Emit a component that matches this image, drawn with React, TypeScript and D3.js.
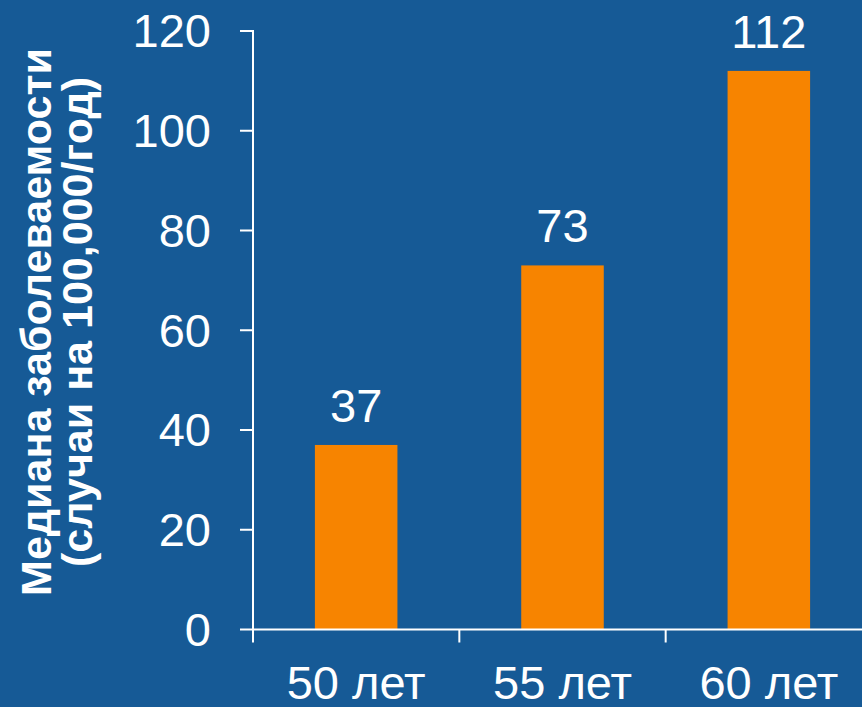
import React, { useEffect } from "react";
import * as d3 from "d3";

const categories: string[] = ["50 лет", "55 лет", "60 лет"];
const values: number[] = [37, 73, 112];
const yTicks: number[] = [0, 20, 40, 60, 80, 100, 120];
const yLabelLines: string[] = ["Медиана заболеваемости", "(случаи на 100,000/год)"];

const W = 862;
const H = 707;
const BG = "#165A96";
const BAR = "#F78400";
const FONT = "'Liberation Sans', Arial, sans-serif";
const FS = 47;

export default function App() {
  useEffect(() => {
    document.body.style.margin = "0";
  }, []);

  const x0 = 253;
  const y0 = 629.5;
  const yTop = 31;
  const y = d3.scaleLinear().domain([0, 120]).range([y0, yTop]);
  const x = d3.scaleBand<string>().domain(categories).range([x0, 872]).padding(0);
  const bw = x.bandwidth() * 0.4;

  return (
    <svg width={W} height={H} style={{ display: "block" }}>
      <rect x={0} y={0} width={W} height={H} fill={BG} />
      {categories.map((c, i) => {
        const cx = (x(c) as number) + x.bandwidth() / 2;
        return (
          <g key={c}>
            <rect x={cx - bw / 2} y={y(values[i])} width={bw} height={y0 - y(values[i])} fill={BAR} />
            <text x={cx} y={y(values[i]) - 23} textAnchor="middle" fill="#fff" fontFamily={FONT} fontSize={FS}>
              {values[i]}
            </text>
            <text x={cx} y={699} textAnchor="middle" fill="#fff" fontFamily={FONT} fontSize={FS}>
              {c}
            </text>
          </g>
        );
      })}
      <line x1={x0} x2={x0} y1={yTop - 1} y2={y0 + 13} stroke="#fff" strokeWidth={2} />
      {yTicks.map((t) => (
        <g key={t}>
          <line x1={x0 - 13} x2={x0} y1={y(t)} y2={y(t)} stroke="#fff" strokeWidth={2} />
          <text x={211} y={y(t)} dy="0.35em" textAnchor="end" fill="#fff" fontFamily={FONT} fontSize={FS}>
            {t}
          </text>
        </g>
      ))}
      <line x1={x0} x2={W} y1={y0} y2={y0} stroke="#fff" strokeWidth={2} />
      {categories.slice(1).map((c) => (
        <line key={c} x1={x(c) as number} x2={x(c) as number} y1={y0} y2={y0 + 13} stroke="#fff" strokeWidth={2} />
      ))}
      <g transform={`translate(0, 322) rotate(-90)`}>
        {yLabelLines.map((l, i) => (
          <text key={i} x={0} y={51 + i * 41} textAnchor="middle" fill="#fff" fontFamily={FONT} fontWeight="bold" fontSize={43}>
            {l}
          </text>
        ))}
      </g>
    </svg>
  );
}
